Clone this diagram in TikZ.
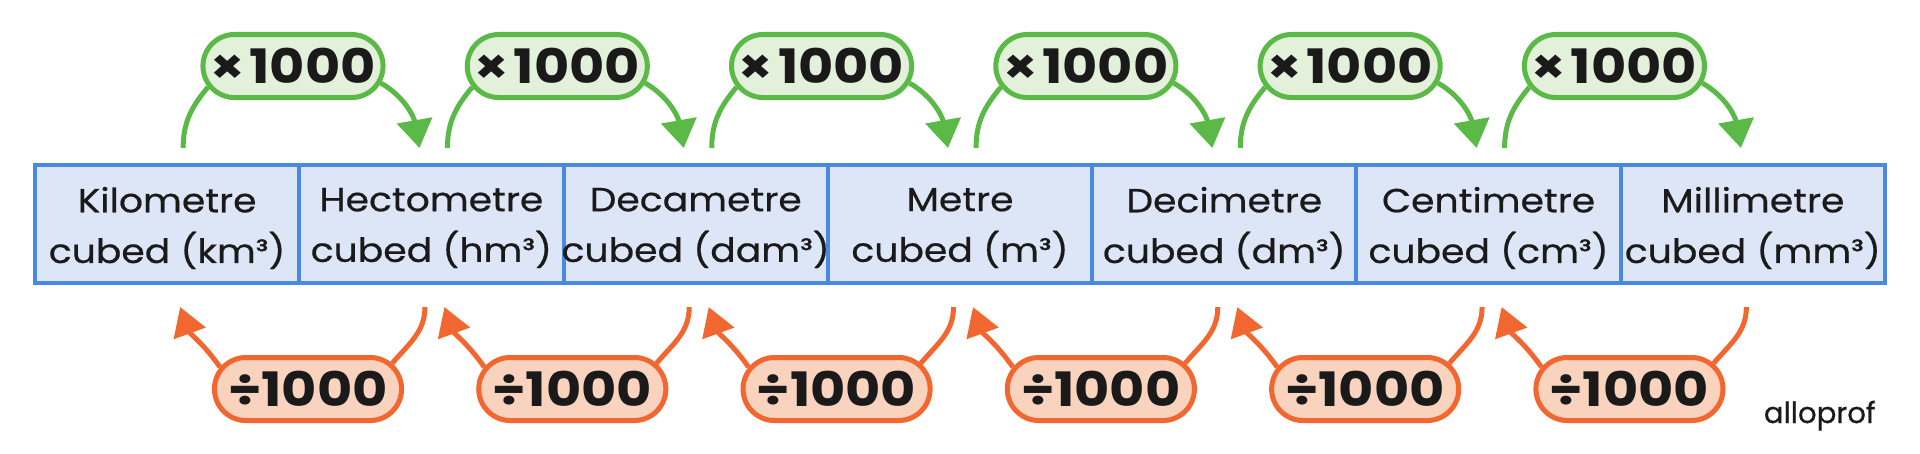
\documentclass[tikz,border=0pt]{standalone}
\usepackage{fontspec}
\setmainfont{Poppins}
\newfontfamily\cellfont{Poppins}[FakeStretch=1.13,FakeBold=0.5]
\newfontfamily\pillfont{Poppins}[FakeStretch=1.14]
\newfontfamily\logofont{Poppins}[FakeBold=0.6]
\usetikzlibrary{arrows.meta,shapes.misc}
\definecolor{cellblue}{HTML}{4A89E0}
\definecolor{cellfill}{HTML}{DCE6F6}
\definecolor{ggreen}{HTML}{5BB947}
\definecolor{gfill}{HTML}{E3F1DA}
\definecolor{oorange}{HTML}{F2662F}
\definecolor{ofill}{HTML}{F9D3BE}
\definecolor{ink}{HTML}{1A1A1A}
\begin{document}
\begin{tikzpicture}[x=0.01cm,y=-0.01cm,
  cell/.style={draw=cellblue, fill=cellfill, line width=0.04cm,
    minimum width=2.643cm, minimum height=1.18cm, inner sep=0pt},
  celltext/.style={inner sep=0pt, align=center, text=ink,
    font=\cellfont\fontsize{9.5}{14.4}\selectfont},
  pill/.style={rounded rectangle, line width=0.05cm, minimum height=0.63cm,
    inner sep=0pt, text=ink, font=\pillfont\fontsize{13.5}{13.5}\selectfont\bfseries},
  mulpill/.style={pill, draw=ggreen, fill=gfill, minimum width=1.8cm},
  divpill/.style={pill, draw=oorange, fill=ofill, minimum width=1.87cm},
  gline/.style={draw=ggreen, line width=0.05cm},
  oline/.style={draw=oorange, line width=0.05cm},
  garrow/.style={gline, -{Triangle[width=0.35cm,length=0.28cm]}},
  oarrow/.style={oline, -{Triangle[width=0.33cm,length=0.28cm]}}
]
\useasboundingbox (0,0) rectangle (1920,453);
\foreach \t [count=\i] in {Kilometre\\cubed (km³),Hectometre\\cubed (hm³),Decametre\\cubed (dam³),Metre\\cubed (m³),Decimetre\\cubed (dm³),Centimetre\\cubed (cm³),Millimetre\\cubed (mm³)}{
  \node[cell] (c\i) at ({35+264.29*(\i-0.5)},224) {};
  \node[celltext] (t\i) at ([yshift=-0.04cm]c\i.center) {\t};
}
\foreach \i in {1,...,6}{
  \node[mulpill] (g\i) at ({293+264.29*(\i-1)},66) {×\kern0.1em 1000};
  \node[divpill] (o\i) at ({308+264.29*(\i-1)},389) {÷1000};
}
\foreach \i [evaluate=\i as \j using int(\i+1)] in {1,...,6}{
  \draw[gline] ([xshift=0.16cm,yshift=0.15cm]c\i.north) to[out=90,in=230] (g\i.194);
  \draw[garrow] (g\i.349) to[out=-30,in=100] ([xshift=-0.12cm,yshift=0.15cm]c\j.north);
  \draw[oline] ([xshift=-0.065cm,yshift=-0.22cm]c\j.south) to[out=-90,in=50] (o\i.17);
  \draw[oarrow] (o\i.166) to[out=125,in=-70] ([xshift=0.13cm,yshift=-0.22cm]c\i.south);
}
\node[anchor=base east, text=ink, font=\logofont\fontsize{8.3}{8.3}\selectfont] (logo) at (1888,423) {alloprof};
\end{tikzpicture}
\end{document}
